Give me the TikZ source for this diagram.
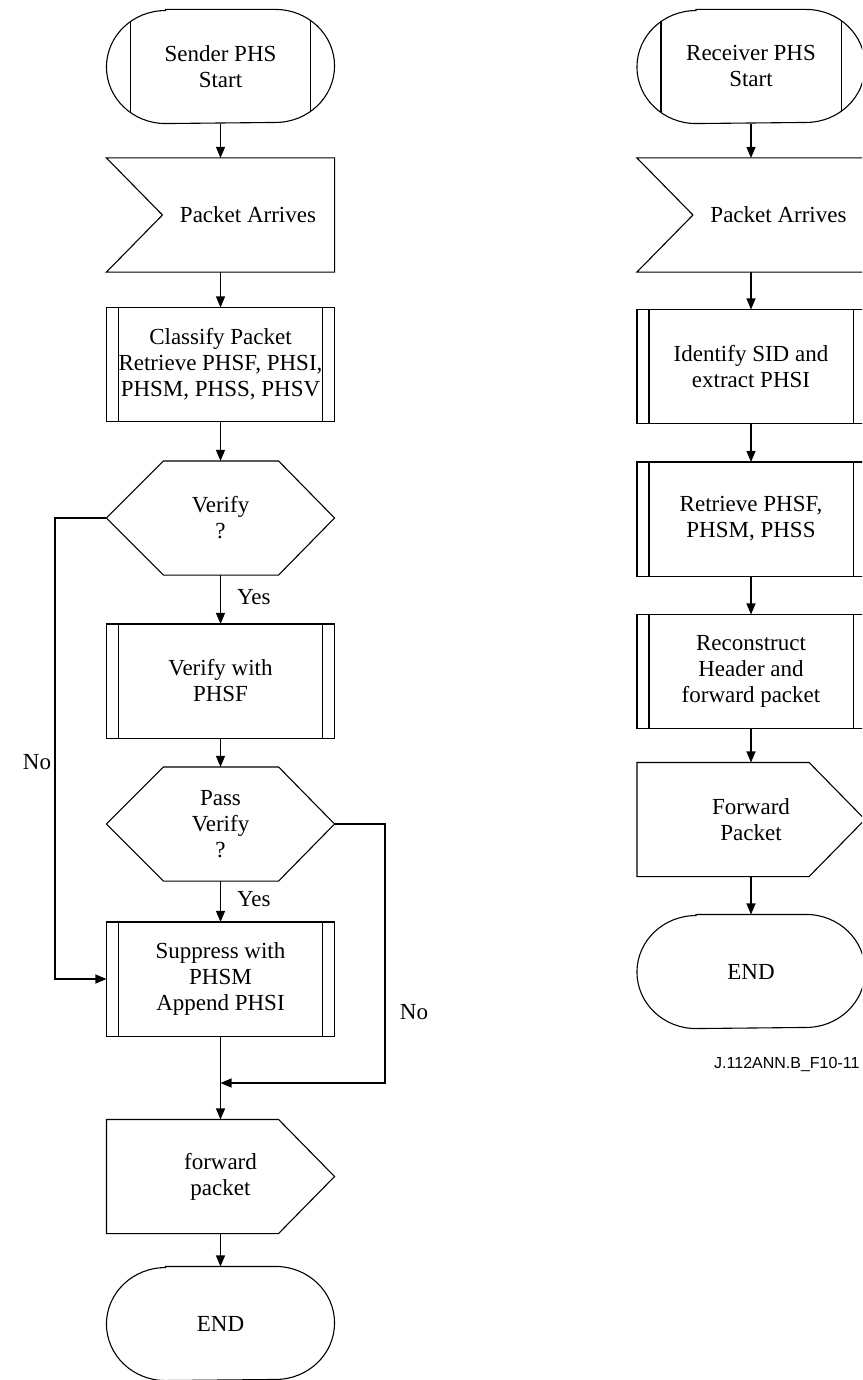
\documentclass[tikz,border=0pt]{standalone}
\usepackage{fontspec}
\setmainfont{Liberation Serif}
\newfontfamily\labelfont{Liberation Sans}
\usetikzlibrary{arrows.meta}
\begin{document}
\begin{tikzpicture}[x=1pt,y=-1pt, line width=1.1pt,
  shp/.style={minimum width=227pt, minimum height=113pt, inner sep=0pt, align=center, font=\fontsize{23}{26}\selectfont},
  txt/.style={align=center, inner sep=0pt, font=\fontsize{23}{26}\selectfont},
  arr/.style={-{Triangle[length=11pt,width=9pt]}},
]
\useasboundingbox (0,0) rectangle (862,1380);
\clip (0,0) rectangle (862,1380);
% ---------- left column ----------
\node[shp] (sstart) at (220.5,66.5) {Sender PHS\\Start};
\node[shp] (spa) at (220.5,215) {};
\node[txt] (spat) at (248,215) {Packet Arrives};
\node[shp] (classify) at (220.5,364.5) {Classify Packet\\Retrieve PHSF, PHSI,\\PHSM, PHSS, PHSV};
\node[shp] (verify) at (220.5,518) {Verify\\?};
\node[shp] (vphsf) at (220.5,681) {Verify with\\PHSF};
\node[shp] (pass) at (220.5,824) {Pass\\Verify\\?};
\node[shp] (suppress) at (220.5,979) {Suppress with\\PHSM\\Append PHSI};
\node[shp] (fwd) at (220.5,1176.5) {forward\\packet};
\node[shp] (send) at (220.5,1323.5) {END};
% ---------- right column ----------
\node[shp] (rstart) at (751,66.5) {Receiver PHS\\Start};
\node[shp] (rpa) at (751,215) {};
\node[txt] (rpat) at (778.5,215) {Packet Arrives};
\node[shp] (ident) at (751,366.5) {Identify SID and\\extract PHSI};
\node[shp] (retr) at (751,519) {Retrieve PHSF,\\PHSM, PHSS};
\node[shp] (recon) at (751,671.5) {Reconstruct\\Header and\\forward packet};
\node[shp] (rfwd) at (751,819.5) {Forward\\Packet};
\node[shp] (rend) at (751,971.5) {END};
\node[inner sep=0pt, anchor=east, font=\labelfont\fontsize{16}{18}\selectfont] (fig) at (860,1064) {J.112ANN.B\_F10-11};
% ---------- shapes ----------
\foreach \n in {classify,vphsf,suppress,ident,retr,recon} {
  \draw (\n.north west) rectangle (\n.south east);
  \draw ([xshift=12pt]\n.north west) -- ([xshift=12pt]\n.south west);
  \draw ([xshift=-12pt]\n.north east) -- ([xshift=-12pt]\n.south east);
}
\foreach \n in {sstart,rstart,send,rend} {
  \draw ([xshift=59pt]\n.north west) -- ([xshift=-59pt]\n.north east)
    arc[start angle=90,end angle=-90,x radius=59pt,y radius=56.5pt]
    -- ([xshift=59pt]\n.south west)
    arc[start angle=270,end angle=90,x radius=59pt,y radius=56.5pt] -- cycle;
}
\foreach \n in {sstart,rstart} {
  \draw ([xshift=24pt,yshift=45.5pt]\n.west) -- ([xshift=24pt,yshift=-45.5pt]\n.west);
  \draw ([xshift=-24pt,yshift=45.5pt]\n.east) -- ([xshift=-24pt,yshift=-45.5pt]\n.east);
}
\foreach \n in {verify,pass} {
  \draw (\n.west) -- ([xshift=57pt]\n.north west) -- ([xshift=-56pt]\n.north east) -- (\n.east)
    -- ([xshift=-56pt]\n.south east) -- ([xshift=57pt]\n.south west) -- cycle;
}
\foreach \n in {spa,rpa} {
  \draw (\n.north west) -- (\n.north east) -- (\n.south east) -- (\n.south west) -- ([xshift=56pt]\n.west) -- cycle;
}
\foreach \n in {fwd,rfwd} {
  \draw (\n.north west) -- ([xshift=-56pt]\n.north east) -- (\n.east) -- ([xshift=-56pt]\n.south east) -- (\n.south west) -- cycle;
}
% ---------- connectors ----------
\draw[arr] (sstart.south) -- (spa.north);
\draw[arr] (spa.south) -- (classify.north);
\draw[arr] (classify.south) -- (verify.north);
\draw[arr] (verify.south) -- node[txt, anchor=west, pos=0.45, xshift=16pt] (yes1) {Yes} (vphsf.north);
\draw[arr] (vphsf.south) -- (pass.north);
\draw[arr] (pass.south) -- node[txt, anchor=west, pos=0.45, xshift=16pt] (yes2) {Yes} (suppress.north);
\draw[arr] (suppress.south) -- (fwd.north);
\draw[arr] (fwd.south) -- (send.north);
\coordinate (nL) at (55,0);
\coordinate (nR) at (385,0);
\coordinate (join) at (220.5,1083);
\draw[arr] (verify.west) -- (verify.west -| nL) |- (suppress.west);
\draw[arr] (pass.east) -- (pass.east -| nR) |- (join);
\node[txt] (no1) at (37,762) {No};
\node[txt] (no2) at (414,1012) {No};
\draw[arr] (rstart.south) -- (rpa.north);
\draw[arr] (rpa.south) -- (ident.north);
\draw[arr] (ident.south) -- (retr.north);
\draw[arr] (retr.south) -- (recon.north);
\draw[arr] (recon.south) -- (rfwd.north);
\draw[arr] (rfwd.south) -- (rend.north);
\end{tikzpicture}
\end{document}
